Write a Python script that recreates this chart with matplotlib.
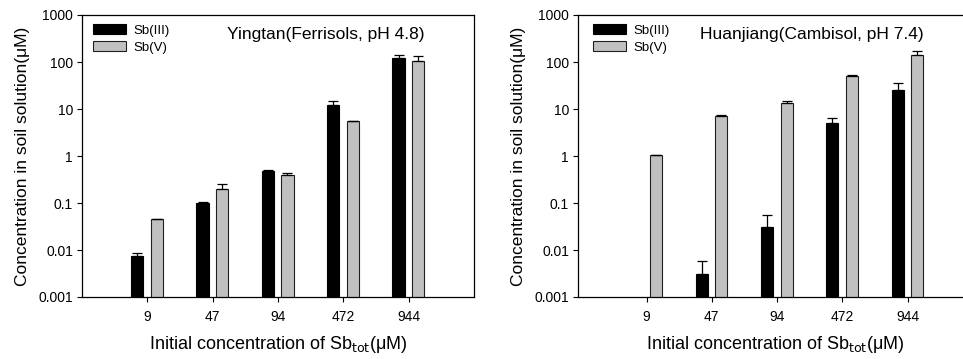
import matplotlib.pyplot as plt
import numpy as np

plt.rcParams['font.family'] = ['Liberation Sans', 'DejaVu Sans']

cats = ['9', '47', '94', '472', '944']

# Yingtan (Ferrisols, pH 4.8)
yt_sb3 = [0.0076, 0.10, 0.475, 12.1, 124]
yt_sb3_err = [0.0009, 0.005, 0.025, 2.4, 17]
yt_sb5 = [0.045, 0.194, 0.385, 5.45, 103]
yt_sb5_err = [0.0005, 0.065, 0.055, 0.0, 29]

# Huanjiang (Cambisol, pH 7.4)
hj_sb3 = [np.nan, 0.00314, 0.0305, 5.0, 24.9]
hj_sb3_err = [0.0, 0.0026, 0.026, 1.5, 10]
hj_sb5 = [1.03, 7.06, 13.2, 49.5, 143]
hj_sb5_err = [0.03, 0.5, 1.3, 2.5, 31]

W, H = 963, 359
fig = plt.figure(figsize=(W / 100, H / 100), dpi=100)


def panel(rect, sb3, e3, sb5, e5, title, tpos, lpos, xlo):
    ax = fig.add_axes(rect)
    x = np.arange(len(cats))
    w = 0.185
    ax.bar(x - 0.155, sb3, w, color='black', edgecolor='black', lw=0.8,
           label='Sb(III)', zorder=2)
    ax.bar(x + 0.145, sb5, w, color='#c0c0c0', edgecolor='#202020', lw=0.8,
           label='Sb(V)', zorder=2)
    ax.errorbar(x - 0.155, sb3, yerr=[np.zeros(5), e3], fmt='none',
                ecolor='black', elinewidth=0.9, capsize=3.5, capthick=0.9, zorder=3)
    ax.errorbar(x + 0.145, sb5, yerr=[np.zeros(5), e5], fmt='none',
                ecolor='black', elinewidth=0.9, capsize=3.5, capthick=0.9, zorder=3)
    ax.set_yscale('log')
    ax.set_ylim(0.001, 1000)
    ax.set_xlim(xlo, 5)
    ax.set_yticks([0.001, 0.01, 0.1, 1, 10, 100, 1000])
    ax.set_yticklabels(['0.001', '0.01', '0.1', '1', '10', '100', '1000'])
    ax.minorticks_off()
    ax.set_xticks(x)
    ax.set_xticklabels(cats)
    ax.tick_params(labelsize=10, length=3.5, width=0.8, direction='out')
    ax.tick_params(axis='x', pad=6)
    ax.tick_params(axis='y', pad=3)
    for s in ax.spines.values():
        s.set_linewidth(0.9)
    ax.set_ylabel('Concentration in soil solution(\u03bcM)', fontsize=12.5, labelpad=6)
    ax.set_xlabel('Initial concentration of Sb$_{\\mathrm{tot}}$(\u03bcM)',
                  fontsize=13, labelpad=7)
    ax.text(tpos[0], tpos[1], title, transform=ax.transAxes, fontsize=12.5,
            ha='center', va='center')
    ax.legend(loc='upper left', bbox_to_anchor=lpos, frameon=False, fontsize=9.5,
              handlelength=2.5, handleheight=0.75, handletextpad=0.6,
              labelspacing=0.35, borderpad=0, borderaxespad=0)
    return ax


panel([82 / W, 1 - 297 / H, 392 / W, 282 / H], yt_sb3, yt_sb3_err, yt_sb5, yt_sb5_err,
      'Yingtan(Ferrisols, pH 4.8)', (0.623, 0.93), (0.028, 0.967), -1)
panel([578 / W, 1 - 297 / H, 395 / W, 282 / H], hj_sb3, hj_sb3_err, hj_sb5, hj_sb5_err,
      'Huanjiang(Cambisol, pH 7.4)', (0.592, 0.93), (0.038, 0.967), -1.05)

fig.savefig('out.png', dpi=100)
